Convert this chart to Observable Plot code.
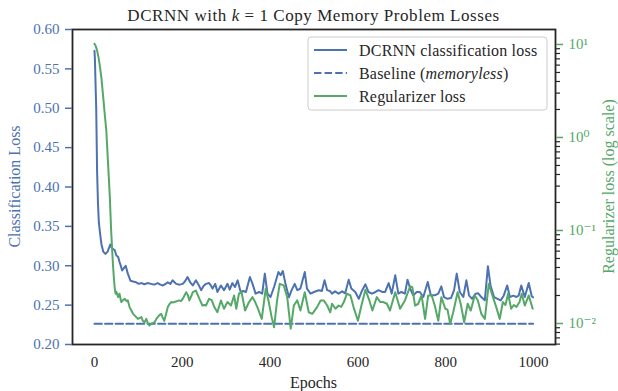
<!DOCTYPE html>
<html>
<head>
<meta charset="utf-8">
<script src="https://cdn.jsdelivr.net/npm/d3@7"></script>
<script src="https://cdn.jsdelivr.net/npm/@observablehq/plot@0.6"></script>
<style>
  html, body { margin: 0; padding: 0; background: #fff; }
  #chart svg { display: block; }
</style>
</head>
<body>
<div id="chart"></div>
<script>
// ---- Data ----
const clsEpochs = [0,1,3,4,6,8,10,13,16,20,25,30,36,40,46,50,54,57,60,63,67,71,76,82,88,95,101,107,114,121,129,136,144,150,156,162,167,173,178,186,194,201,206,212,218,224,231,237,243,248,254,261,265,269,275,280,288,295,303,308,314,320,326,333,339,345,354,360,367,375,382,388,394,401,409,419,424,429,435,443,449,456,462,469,479,484,492,500,506,511,518,524,530,536,541,548,556,564,571,579,585,594,602,609,617,624,632,640,647,655,662,670,677,685,692,699,707,713,719,726,734,741,749,759,766,775,783,790,796,804,812,819,825,832,840,847,853,860,868,874,881,889,896,902,910,918,925,932,940,946,954,961,966,972,980,989,996,999];
const clsLoss = [0.573,0.563,0.52,0.50,0.42,0.38,0.355,0.34,0.327,0.318,0.315,0.318,0.327,0.322,0.32,0.313,0.311,0.305,0.30,0.294,0.297,0.30,0.29,0.281,0.280,0.279,0.277,0.278,0.2765,0.278,0.277,0.276,0.278,0.276,0.275,0.277,0.279,0.277,0.2815,0.277,0.276,0.277,0.28,0.2857,0.279,0.275,0.2815,0.276,0.269,0.274,0.277,0.278,0.275,0.271,0.277,0.2667,0.275,0.269,0.277,0.2697,0.278,0.273,0.2815,0.2667,0.268,0.2667,0.2857,0.277,0.2646,0.2667,0.2646,0.290,0.2646,0.2603,0.273,0.292,0.288,0.2933,0.277,0.260,0.269,0.277,0.269,0.271,0.292,0.271,0.2646,0.2667,0.268,0.269,0.268,0.2815,0.269,0.268,0.2646,0.2675,0.2646,0.2675,0.265,0.2823,0.271,0.2667,0.258,0.268,0.2764,0.2667,0.2646,0.2667,0.269,0.2667,0.2667,0.278,0.2646,0.288,0.2646,0.2667,0.2646,0.2823,0.271,0.2625,0.2667,0.2667,0.2603,0.2793,0.2625,0.2625,0.2646,0.2738,0.2603,0.258,0.259,0.269,0.290,0.2667,0.2603,0.2815,0.2625,0.258,0.2646,0.265,0.2603,0.256,0.2995,0.275,0.2603,0.258,0.256,0.262,0.275,0.2603,0.262,0.2603,0.262,0.275,0.2603,0.278,0.261,0.260];

const regEpochs = [0,3,6,9,12,16,20,24,27,31,35,38,42,44,46,48,50,54,57,61,65,69,73,76,80,84,88,93,99,103,107,110,114,118,121,125,131,137,141,144,148,152,155,159,163,167,171,175,178,182,188,193,197,201,205,209,213,216,220,224,231,235,239,246,250,254,261,267,273,280,288,295,303,311,318,323,329,335,343,352,360,366,371,381,390,397,403,409,416,422,431,439,447,454,462,469,479,488,496,507,515,522,530,537,541,549,556,562,568,575,583,590,600,608,617,626,633,643,651,658,666,673,685,696,707,719,724,730,737,745,753,760,768,775,783,790,799,804,810,817,827,834,842,850,857,866,873,881,889,898,905,915,923,930,936,942,949,955,961,968,973,980,989,998];
const regLoss = [10.2,9.6,8.6,7.4,6.0,4.3,2.7,1.66,1.19,0.52,0.23,0.1,0.044,0.032,0.0245,0.0209,0.0219,0.0192,0.0209,0.0170,0.0178,0.0184,0.0174,0.0177,0.0150,0.0138,0.0127,0.0120,0.0112,0.0115,0.0117,0.0107,0.0103,0.0112,0.0102,0.0095,0.0100,0.0103,0.0112,0.0117,0.0123,0.0127,0.0117,0.0107,0.0126,0.0150,0.0162,0.0170,0.0168,0.0170,0.0174,0.0177,0.0174,0.0184,0.0200,0.0217,0.0200,0.0177,0.0195,0.0217,0.0226,0.0204,0.0184,0.0156,0.0158,0.0156,0.0184,0.0178,0.0150,0.0132,0.0177,0.0144,0.0170,0.0156,0.0200,0.0144,0.0209,0.0217,0.0138,0.0170,0.0192,0.0170,0.0150,0.0112,0.0236,0.0170,0.0120,0.0091,0.0178,0.0267,0.0257,0.0192,0.0088,0.0156,0.0177,0.0138,0.0217,0.0132,0.0127,0.0150,0.0177,0.0177,0.0156,0.0132,0.0163,0.0144,0.0156,0.0151,0.0170,0.0209,0.0200,0.0150,0.0107,0.0156,0.0231,0.0177,0.0138,0.0192,0.0170,0.0170,0.0163,0.0138,0.0217,0.0144,0.0177,0.0251,0.0245,0.0156,0.0162,0.0200,0.0112,0.0200,0.0200,0.0156,0.0107,0.0192,0.0144,0.0141,0.0099,0.0132,0.0217,0.0163,0.0103,0.0163,0.0138,0.0200,0.0178,0.0127,0.0112,0.0267,0.0209,0.0150,0.0112,0.0170,0.0158,0.0209,0.0144,0.0158,0.0151,0.0170,0.0209,0.0156,0.0200,0.0144];

const baselineEpochs = [0, 999];
const baselineLoss = 0.2265;

const xTicks = [0, 200, 400, 600, 800, 1000];
const clsTicks = [0.20, 0.25, 0.30, 0.35, 0.40, 0.45, 0.50, 0.55, 0.60];
const regMajorTicks = [0.01, 0.1, 1, 10];
const regMajorLabels = ["10\u207B\u00B2", "10\u207B\u00B9", "10\u2070", "10\u00B9"];
const regMinorTicks = [0.006,0.007,0.008,0.009,0.02,0.03,0.04,0.05,0.06,0.07,0.08,0.09,0.2,0.3,0.4,0.5,0.6,0.7,0.8,0.9,2,3,4,5,6,7,8,9];

// axis limits (left linear, right log) sharing the same plot height
const clsDomain = [0.2, 0.6];
const regDomain = [Math.pow(10, -2.226), Math.pow(10, 1.161)];

// ---- Build tables ----
const clsData = clsEpochs.map((e, i) => ({epoch: e, loss: clsLoss[i]}));
const regData = regEpochs.map((e, i) => ({epoch: e, loss: regLoss[i]}));
const baseData = baselineEpochs.map(e => ({epoch: e, loss: baselineLoss}));

const reg2cls = d3.scaleLog().domain(regDomain).range(clsDomain);

const BLUE = "#4c72b0", GREEN = "#55a868", INK = "#262626";
const FONT = "'Liberation Serif', 'DejaVu Serif', serif";

const svg = Plot.plot({
  width: 618,
  height: 391,
  marginLeft: 72,
  marginRight: 63,
  marginTop: 29,
  marginBottom: 47,
  style: {fontFamily: FONT, fontSize: "15px", background: "white", overflow: "visible"},
  x: {domain: [-50, 1049.95], axis: null},
  y: {domain: clsDomain, axis: null},
  marks: [
    Plot.line(clsData, {x: "epoch", y: "loss", stroke: BLUE, strokeWidth: 2, curve: "linear"}),
    Plot.line(baseData, {x: "epoch", y: "loss", stroke: BLUE, strokeWidth: 2, strokeDasharray: "7.4,3.2"}),
    Plot.line(regData, {x: "epoch", y: d => reg2cls(d.loss), stroke: GREEN, strokeWidth: 2}),
    Plot.frame({stroke: INK, strokeWidth: 1.8}),
    Plot.axisY({anchor: "left", ticks: clsTicks, tickFormat: d3.format(".2f"), color: BLUE,
      tickSize: 7, tickPadding: 6, label: null, fontSize: 15, strokeWidth: 1.5}),
    Plot.axisY({anchor: "right", ticks: regMinorTicks.map(reg2cls), tickFormat: () => "",
      stroke: INK, tickSize: 4, label: null, strokeWidth: 1.2}),
    Plot.axisY({anchor: "right", ticks: regMajorTicks.map(reg2cls),
      tickFormat: (d, i) => regMajorLabels[i], color: GREEN,
      tickSize: 7, tickPadding: 6, label: null, fontSize: 15, strokeWidth: 1.5}),
    Plot.axisX({anchor: "bottom", ticks: xTicks, tickFormat: d => String(d), color: INK,
      tickSize: 0, tickPadding: 12, label: null, fontSize: 15})
  ]
});

const s = d3.select(svg);

// Title
const title = s.append("text")
  .attr("x", 313.5).attr("y", 21)
  .attr("text-anchor", "middle")
  .attr("fill", INK)
  .style("font-size", "17px")
  .style("letter-spacing", "0.55px");
title.append("tspan").text("DCRNN with ");
title.append("tspan").style("font-style", "italic").text("k");
title.append("tspan").text(" = 1 Copy Memory Problem Losses");

// Axis labels
s.append("text").attr("x", 313.5).attr("y", 388).attr("text-anchor", "middle")
  .attr("fill", INK).style("font-size", "16px").text("Epochs");
s.append("text").attr("transform", "translate(20,186.5) rotate(-90)").attr("text-anchor", "middle")
  .attr("fill", BLUE).style("font-size", "16px").text("Classification Loss");
s.append("text").attr("transform", "translate(603,186.5) rotate(-90)").attr("text-anchor", "middle")
  .attr("dy", "0.7em")
  .attr("fill", GREEN).style("font-size", "16px").text("Regularizer loss (log scale)");

// Legend
const lg = s.append("g");
lg.append("rect").attr("x", 308).attr("y", 37).attr("width", 239).attr("height", 73)
  .attr("rx", 3).attr("fill", "white").attr("fill-opacity", 0.8)
  .attr("stroke", "#cccccc").attr("stroke-width", 1);
const entries = [
  {color: BLUE, dash: null, parts: [["DCRNN classification loss", false]]},
  {color: BLUE, dash: "7.4,3.2", parts: [["Baseline (", false], ["memoryless", true], [")", false]]},
  {color: GREEN, dash: null, parts: [["Regularizer loss", false]]}
];
entries.forEach((e, i) => {
  const cy = 50 + i * 23;
  lg.append("line").attr("x1", 314).attr("x2", 347).attr("y1", cy).attr("y2", cy)
    .attr("stroke", e.color).attr("stroke-width", 2)
    .attr("stroke-dasharray", e.dash);
  const t = lg.append("text").attr("x", 359).attr("y", cy).attr("dy", "0.35em")
    .attr("text-anchor", "start")
    .attr("fill", INK).style("font-size", "16px").style("letter-spacing", "0.2px");
  e.parts.forEach(([txt, it]) => {
    const sp = t.append("tspan").text(txt);
    if (it) sp.style("font-style", "italic");
  });
});

document.getElementById("chart").appendChild(svg);
</script>
</body>
</html>
